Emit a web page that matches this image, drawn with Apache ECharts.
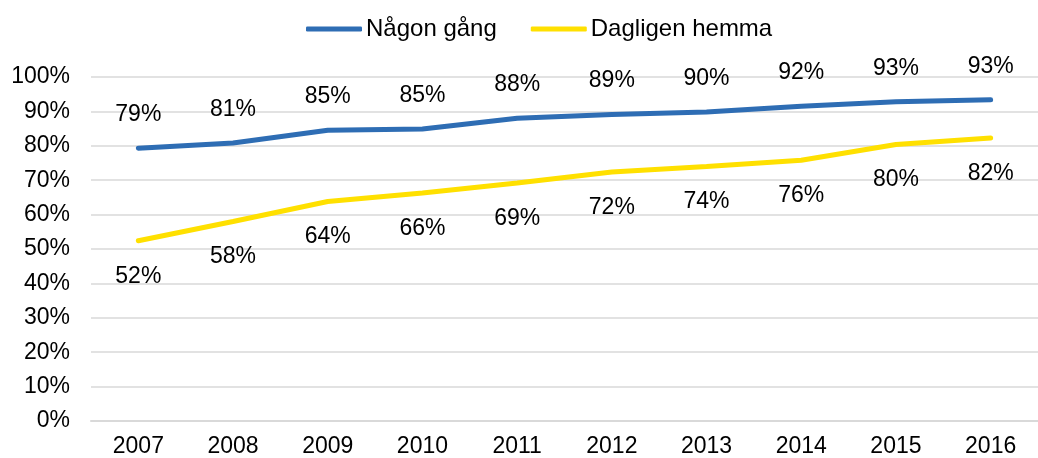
<!DOCTYPE html>
<html>
<head>
<meta charset="utf-8">
<script src="https://cdn.jsdelivr.net/npm/echarts@6/dist/echarts.min.js"></script>
<style>
  html, body { margin: 0; padding: 0; background: #fff; }
  #c { width: 1038px; height: 458px; }
</style>
</head>
<body>
<div id="c"></div>
<script>
var years = ['2007','2008','2009','2010','2011','2012','2013','2014','2015','2016'];
var nagonGang = [79.3, 80.8, 84.5, 84.9, 88.0, 89.1, 89.8, 91.5, 92.8, 93.4];
var dagligen = [52.4, 58.0, 63.8, 66.3, 69.2, 72.4, 74.0, 75.8, 80.4, 82.3];
var seriesNames = ['Någon gång', 'Dagligen hemma'];

var font = 'Liberation Sans, Arial, sans-serif';
var myChart = echarts.init(document.getElementById('c'));
var option = {
  animation: false,
  textStyle: { fontFamily: font },
  legend: {
    data: seriesNames,
    top: 12,
    left: 301,
    icon: 'roundRect',
    itemWidth: 56,
    itemHeight: 5,
    itemGap: 34,
    textStyle: { fontSize: 24, color: '#000', fontFamily: font, padding: [0, 0, 0, -1] }
  },
  grid: { left: 91, right: -14, top: 77, bottom: 37 },
  xAxis: {
    type: 'category',
    data: years,
    boundaryGap: true,
    axisLine: { show: true, lineStyle: { color: '#d9d9d9', width: 2 } },
    axisTick: { show: false },
    axisLabel: { fontSize: 23, color: '#000', margin: 14, fontFamily: font }
  },
  yAxis: {
    type: 'value',
    min: 0,
    max: 100,
    interval: 10,
    axisLine: { show: false },
    axisTick: { show: false },
    splitLine: { lineStyle: { color: '#d9d9d9', width: 1.5 } },
    axisLabel: {
      fontSize: 23, color: '#000', margin: 21, fontFamily: font,
      formatter: function (v) { return v + '%'; }
    }
  },
  series: [
    {
      name: seriesNames[0],
      type: 'line',
      data: nagonGang,
      symbol: 'circle',
      symbolSize: 0,
      lineStyle: { color: '#2E6DB4', width: 5, cap: 'round' },
      itemStyle: { color: '#2E6DB4' },
      label: {
        show: true, position: 'top', distance: 22,
        fontSize: 23, color: '#000', fontFamily: font,
        formatter: function (p) { return Math.round(p.value) + '%'; }
      }
    },
    {
      name: seriesNames[1],
      type: 'line',
      data: dagligen,
      symbol: 'circle',
      symbolSize: 0,
      lineStyle: { color: '#FFE000', width: 5, cap: 'round' },
      itemStyle: { color: '#FFE000' },
      label: {
        show: true, position: 'bottom', distance: 24,
        fontSize: 23, color: '#000', fontFamily: font,
        formatter: function (p) { return Math.round(p.value) + '%'; }
      }
    }
  ]
};
option && myChart.setOption(option);
</script>
</body>
</html>
